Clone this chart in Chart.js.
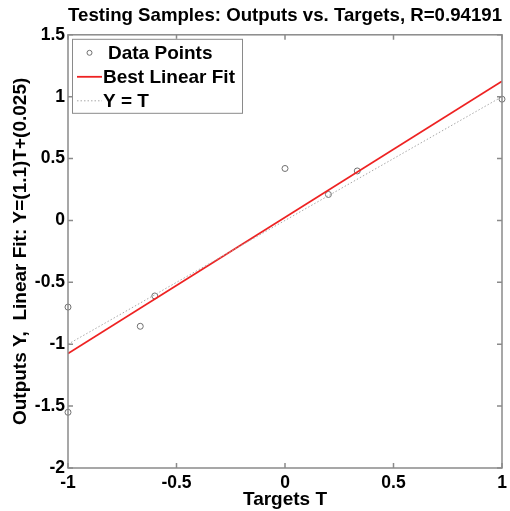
<!DOCTYPE html>
<html>
<head>
<meta charset="utf-8">
<script src="https://cdn.jsdelivr.net/npm/chart.js@4/dist/chart.umd.min.js"></script>
<style>
  body { margin: 0; background: #fff; }
  #wrap { width: 510px; height: 511px; }
</style>
</head>
<body>
<div id="wrap"><canvas id="regPlot" width="510" height="511"></canvas></div>
<script>
// values
const targets = [-1, -1, -0.667, -0.6, 0, 0.2, 0.333, 1];
const outputs = [-0.70, -1.55, -0.855, -0.61, 0.42, 0.21, 0.40, 0.98];
const fitX = [-1, 1];
const fitY = [-1.075, 1.125];
const identX = [-1, 1];
const identY = [-1, 1];
const xTickLabels = ['-1', '-0.5', '0', '0.5', '1'];
const yTickLabels = ['-2', '-1.5', '-1', '-0.5', '0', '0.5', '1', '1.5'];
const seriesNames = ['Data Points', 'Best Linear Fit', 'Y = T'];

const axisGray = '#8a8a8a';
const fontFam = '"Liberation Sans", Arial, sans-serif';
const labelFont = { family: fontFam, size: 19, weight: 'bold' };
const tickFont = { family: fontFam, size: 17.5, weight: 'bold' };

const pts = (xs, ys) => xs.map((x, i) => ({x: x, y: ys[i]}));

// box + inward tick marks, like matlab
const boxTicks = {
  id: 'boxTicks',
  afterDatasetsDraw(chart) {
    const {ctx, chartArea: a, scales} = chart;
    ctx.save();
    ctx.strokeStyle = axisGray;
    ctx.lineWidth = 1.5;
    ctx.strokeRect(a.left, a.top, a.right - a.left, a.bottom - a.top);
    const len = 5;
    ctx.beginPath();
    scales.x.ticks.forEach(t => {
      const px = scales.x.getPixelForValue(t.value);
      ctx.moveTo(px, a.bottom); ctx.lineTo(px, a.bottom - len);
      ctx.moveTo(px, a.top); ctx.lineTo(px, a.top + len);
    });
    scales.y.ticks.forEach(t => {
      const py = scales.y.getPixelForValue(t.value);
      ctx.moveTo(a.left, py); ctx.lineTo(a.left + len, py);
      ctx.moveTo(a.right, py); ctx.lineTo(a.right - len, py);
    });
    ctx.stroke();
    ctx.restore();
  }
};

// legend in the upper left corner of the plot
const boxLegend = {
  id: 'boxLegend',
  afterDraw(chart) {
    const {ctx, chartArea: a} = chart;
    const x0 = a.left + 4, y0 = a.top + 4, w = 170, h = 74;
    ctx.save();
    ctx.fillStyle = '#fff';
    ctx.fillRect(x0, y0, w, h);
    ctx.strokeStyle = axisGray;
    ctx.lineWidth = 1;
    ctx.strokeRect(x0 + 0.5, y0 + 0.5, w, h);
    ctx.font = 'bold 19px ' + fontFam;
    ctx.textBaseline = 'middle';
    ctx.fillStyle = '#000';
    chart.data.datasets.forEach((ds, i) => {
      const cy = y0 + 14 + i * 24;
      const lx = x0 + 5, rx = x0 + 30;
      if (i === 0) {
        ctx.beginPath();
        ctx.strokeStyle = ds.borderColor;
        ctx.lineWidth = 1;
        ctx.arc((lx + rx) / 2, cy, 2.5, 0, Math.PI * 2);
        ctx.stroke();
      } else {
        ctx.beginPath();
        ctx.strokeStyle = ds.borderColor;
        ctx.lineWidth = ds.borderWidth;
        ctx.setLineDash(ds.borderDash || []);
        ctx.moveTo(lx, cy); ctx.lineTo(rx, cy);
        ctx.stroke();
        ctx.setLineDash([]);
      }
      ctx.fillText(ds.label, x0 + (i === 0 ? 36 : 31), cy + 1);
    });
    ctx.restore();
  }
};

new Chart(document.getElementById('regPlot'), {
  type: 'scatter',
  data: {
    datasets: [
      {
        label: seriesNames[0],
        data: pts(targets, outputs),
        pointRadius: 3,
        pointHoverRadius: 3,
        borderColor: '#707070',
        backgroundColor: 'rgba(0,0,0,0)',
        borderWidth: 1,
        showLine: false,
        clip: false,
        order: 3
      },
      {
        type: 'line',
        label: seriesNames[1],
        data: pts(fitX, fitY),
        borderColor: '#ee2222',
        borderWidth: 1.8,
        pointRadius: 0,
        fill: false,
        order: 2
      },
      {
        type: 'line',
        label: seriesNames[2],
        data: pts(identX, identY),
        borderColor: '#a8a8a8',
        borderWidth: 1,
        borderDash: [1.5, 2],
        pointRadius: 0,
        fill: false,
        order: 1
      }
    ]
  },
  options: {
    responsive: false,
    animation: false,
    layout: { padding: { left: 0, right: 8, top: 0, bottom: 0 } },
    plugins: {
      legend: { display: false },
      tooltip: { enabled: false },
      title: {
        display: true,
        fullSize: false,
        text: 'Testing Samples: Outputs vs. Targets, R=0.94191',
        color: '#000',
        font: labelFont,
        padding: { top: 4, bottom: 8 }
      }
    },
    scales: {
      x: {
        type: 'linear',
        min: -1, max: 1,
        afterFit(s) { s.height = 43; s.paddingRight = 0; s.paddingLeft = 0; },
        grid: { display: false, drawTicks: false },
        border: { display: false },
        ticks: {
          stepSize: 0.5,
          padding: 5,
          color: '#000',
          font: tickFont,
          callback: (v, i) => xTickLabels[i]
        },
        title: {
          display: true,
          text: 'Targets T',
          color: '#000',
          font: labelFont,
          padding: { top: 0, bottom: 0 }
        }
      },
      y: {
        type: 'linear',
        min: -2, max: 1.5,
        afterFit(s) { s.width = 68; },
        grid: { display: false, drawTicks: false },
        border: { display: false },
        ticks: {
          stepSize: 0.5,
          padding: 3,
          color: '#000',
          font: tickFont,
          callback: (v, i) => yTickLabels[i]
        },
        title: {
          display: true,
          text: 'Outputs Y,  Linear Fit: Y=(1.1)T+(0.025)',
          color: '#000',
          font: labelFont,
          padding: { top: 9, bottom: 0 }
        }
      }
    }
  },
  plugins: [boxTicks, boxLegend]
});
</script>
</body>
</html>
